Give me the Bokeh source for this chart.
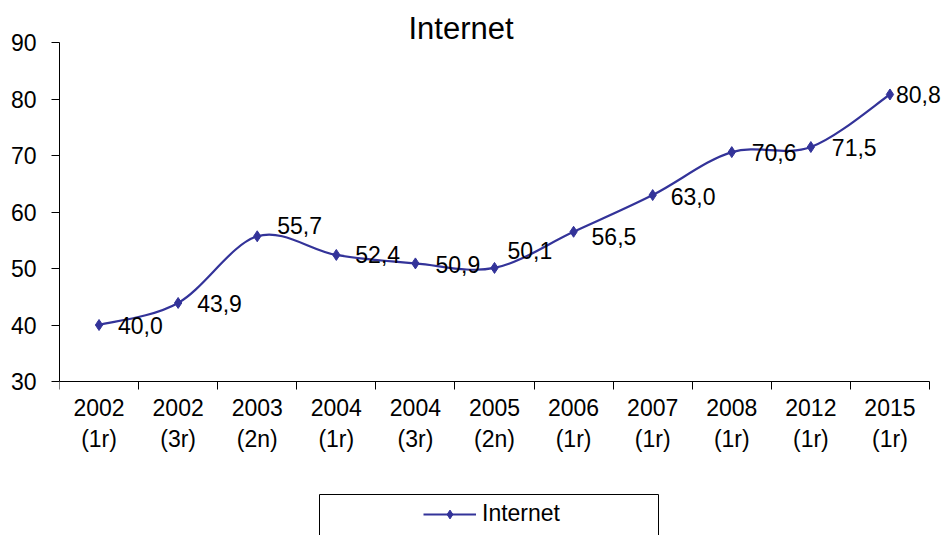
from bokeh.plotting import figure
from bokeh.models import (Range1d, FixedTicker, Legend, LegendItem, BoxAnnotation,
                          ColumnDataSource, LabelSet)
from bokeh.core.properties import value
from bokeh.embed import file_html
from bokeh.resources import INLINE

# ---- data ----
categories = ["2002\n(1r)", "2002\n(3r)", "2003\n(2n)", "2004\n(1r)", "2004\n(3r)",
              "2005\n(2n)", "2006\n(1r)", "2007\n(1r)", "2008\n(1r)", "2012\n(1r)", "2015\n(1r)"]
internet = [40.0, 43.9, 55.7, 52.4, 50.9, 50.1, 56.5, 63.0, 70.6, 71.5, 80.8]
y_ticks = [30, 40, 50, 60, 70, 80, 90]
series_name = "Internet"
title_text = "Internet"

# ---- label nudges (style, px; dy positive = up) ----
label_dx = [19, 19, 20, 19, 20, 13, 18, 18, 20, 21, 6]
label_dy = [0, -1, 11, 0, -1, 17, -5, -1, 0, 0, 0]

FONT = "Liberation Sans"
COLOR = "#333399"
n = len(categories)
xs = list(range(n))

# ---- layout (pixels) ----
W, H = 944, 535
AX_LEFT, AX_RIGHT = 59, 929      # x-axis extent
AX_TOP, AX_BOTTOM = 42, 381      # y = 90 / y = 30
px_x = (AX_RIGHT - AX_LEFT) / n
px_y = (AX_BOTTOM - AX_TOP) / (y_ticks[-1] - y_ticks[0])
x_lo = -0.5
x_hi = x_lo + (W - AX_LEFT) / px_x
y_hi = y_ticks[-1]
y_lo = y_ticks[0] - (H - AX_BOTTOM) / px_y

p = figure(width=W, height=H,
           x_range=Range1d(x_lo, x_hi), y_range=Range1d(y_lo, y_hi),
           output_backend="svg", toolbar_location=None,
           min_border_left=AX_LEFT, min_border_right=0, min_border_top=AX_TOP, min_border_bottom=0)
p.outline_line_color = None
p.xgrid.visible = False
p.ygrid.visible = False
p.background_fill_color = "white"
p.border_fill_color = "white"

# title
p.title.text = title_text
p.title.align = "left"
p.title.offset = 349
p.title.standoff = -6
p.title.text_font = FONT
p.title.text_font_size = "31px"
p.title.text_font_style = "normal"
p.title.text_color = "black"

# y axis
ya = p.yaxis[0]
ya.ticker = FixedTicker(ticks=y_ticks)
ya.bounds = (y_ticks[0], y_ticks[-1])
ya.major_tick_out = 8
ya.major_tick_in = 0
ya.minor_tick_out = 0
ya.minor_tick_in = 0
ya.major_label_standoff = 15
ya.major_label_text_font = FONT
ya.major_label_text_font_size = "23px"
ya.major_label_text_color = "black"
ya.axis_line_color = "black"
ya.major_tick_line_color = "black"

# x axis: labels at category centres, tick marks at category boundaries
xa = p.xaxis[0]
xa.fixed_location = y_ticks[0]
xa.bounds = (-0.5, n - 0.5)
xa.ticker = FixedTicker(ticks=xs, minor_ticks=[i - 0.5 for i in range(n + 1)])
xa.major_label_overrides = {i: c for i, c in enumerate(categories)}
xa.major_tick_out = 0
xa.major_tick_in = 0
xa.minor_tick_out = 8
xa.minor_tick_in = 0
xa.minor_tick_line_color = "black"
xa.axis_line_color = "black"
xa.major_label_standoff = 5
xa.major_label_text_font = FONT
xa.major_label_text_font_size = "23px"
xa.major_label_text_color = "black"

# smoothed line (Catmull-Rom -> cubic Bezier through the data points)
def pt(i):
    i = max(0, min(n - 1, i))
    return xs[i], internet[i]

x0, y0, x1, y1, cx0, cy0, cx1, cy1 = ([] for _ in range(8))
for i in range(n - 1):
    pa, pb, pc, pd = pt(i - 1), pt(i), pt(i + 1), pt(i + 2)
    x0.append(pb[0]); y0.append(pb[1]); x1.append(pc[0]); y1.append(pc[1])
    cx0.append(pb[0] + (pc[0] - pa[0]) / 6); cy0.append(pb[1] + (pc[1] - pa[1]) / 6)
    cx1.append(pc[0] - (pd[0] - pb[0]) / 6); cy1.append(pc[1] - (pd[1] - pb[1]) / 6)

p.bezier(x0=x0, y0=y0, x1=x1, y1=y1, cx0=cx0, cy0=cy0, cx1=cx1, cy1=cy1,
         line_color=COLOR, line_width=2.2)
legend_line = p.line(xs, internet, line_color=COLOR, line_width=2.2, visible=False)
pts = p.scatter(xs, internet, marker="diamond", size=11, fill_color=COLOR, line_color=COLOR)

# data labels
src = ColumnDataSource(dict(x=xs, y=internet,
                            label=[f"{v:.1f}".replace(".", ",") for v in internet],
                            dx=label_dx, dy=label_dy))
labels = LabelSet(x="x", y="y", text="label", x_offset="dx", y_offset="dy", source=src,
                  text_font=value(FONT), text_font_size=value("23px"), text_color="black",
                  text_baseline="middle", text_align="left")
p.add_layout(labels)

# legend box (bottom edge lies below the visible area, as in the reference)
box = BoxAnnotation(left=319, right=658, top=494, bottom=H + 20,
                    left_units="canvas", right_units="canvas",
                    top_units="canvas", bottom_units="canvas",
                    fill_alpha=0, line_color="black", line_width=1, line_alpha=1)
p.add_layout(box)

legend = Legend(items=[LegendItem(label=series_name, renderers=[legend_line, pts])],
                location=(423 - AX_LEFT, H - 527), padding=0, spacing=0, margin=0,
                glyph_width=53, glyph_height=22, label_height=22, label_standoff=6,
                label_text_font=FONT, label_text_font_size="23px", label_text_color="black",
                border_line_color=None, background_fill_alpha=0)
p.add_layout(legend, "center")

open("out.html", "w").write(file_html(p, INLINE))
